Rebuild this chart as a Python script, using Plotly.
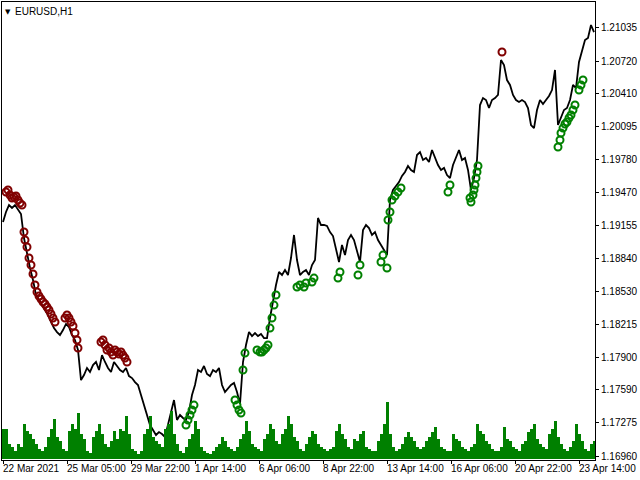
import plotly.graph_objects as go

# ---- data ----
close = [1.19188, 1.19283, 1.19349, 1.19321, 1.19349, 1.19302, 1.19264, 1.19035, 1.18873, 1.18750,
         1.18635, 1.18493, 1.18445, 1.18397, 1.18350, 1.18302, 1.18236, 1.18178, 1.18140, 1.18112,
         1.18159, 1.18217, 1.18188, 1.18112, 1.18064, 1.17969, 1.17683, 1.17731, 1.17798, 1.17760,
         1.17826, 1.17855, 1.17779, 1.17921, 1.17855, 1.17798, 1.17760, 1.17855, 1.17817, 1.17779,
         1.17760, 1.17798, 1.17721, 1.17702, 1.17664, 1.17636, 1.17541, 1.17445, 1.17350, 1.17255,
         1.17207, 1.17160, 1.17188, 1.17169, 1.17141, 1.17255, 1.17398, 1.17493, 1.17303, 1.17350,
         1.17322, 1.17303, 1.17379, 1.17541, 1.17636, 1.17779, 1.17760, 1.17817, 1.17741, 1.17721,
         1.17779, 1.17760, 1.17798, 1.17636, 1.17569, 1.17607, 1.17636, 1.17655, 1.17569, 1.17455,
         1.17855, 1.18017, 1.18140, 1.18102, 1.18131, 1.18102, 1.18121, 1.18083, 1.18083, 1.18274,
         1.18445, 1.18588, 1.18712, 1.18683, 1.18731, 1.18683, 1.18845, 1.19064, 1.18826, 1.18683,
         1.18712, 1.18731, 1.18683, 1.18778, 1.18826, 1.19226, 1.19159, 1.19159, 1.19150, 1.19092,
         1.19054, 1.18940, 1.18807, 1.18969, 1.18873, 1.19016, 1.19064, 1.19016, 1.18902, 1.18807,
         1.19111, 1.19159, 1.19130, 1.19064, 1.19092, 1.19016, 1.18969, 1.18921, 1.18873, 1.19397,
         1.19492, 1.19530, 1.19568, 1.19626, 1.19664, 1.19721, 1.19683, 1.19664, 1.19825, 1.19854,
         1.19778, 1.19797, 1.19759, 1.19873, 1.19797, 1.19730, 1.19683, 1.19702, 1.19635, 1.19606,
         1.19730, 1.19797, 1.19873, 1.19778, 1.19797, 1.19683, 1.19492, 1.19606, 1.19778, 1.20301,
         1.20368, 1.20349, 1.20273, 1.20349, 1.20368, 1.20397, 1.20730, 1.20682, 1.20539, 1.20492,
         1.20397, 1.20349, 1.20330, 1.20349, 1.20330, 1.20273, 1.20111, 1.20082, 1.20254, 1.20349,
         1.20311, 1.20349, 1.20387, 1.20444, 1.20635, 1.20111, 1.20178, 1.20254, 1.20273, 1.20349,
         1.20492, 1.20463, 1.20711, 1.20825, 1.20920, 1.20939, 1.21063, 1.20996]

volume = [3000, 3000, 1500, 1200, 800, 1500, 1200, 3500, 2800, 2500,
          2000, 1500, 1000, 800, 1200, 2200, 3000, 4000, 2200, 1800,
          1000, 800, 2800, 3500, 3000, 4600, 2500, 2000, 800, 600,
          2200, 2800, 3500, 2500, 1500, 1200, 1800, 2800, 2000, 3000,
          2800, 4300, 2500, 1000, 800, 500, 800, 2500, 3000, 4300,
          2200, 1800, 1500, 1200, 3000, 3500, 4800, 2500, 1500, 800,
          600, 1200, 2000, 2500, 3800, 3000, 1200, 800, 600, 500,
          800, 1200, 1500, 2200, 1800, 1200, 1000, 800, 1200, 2000,
          2500, 3800, 2800, 1500, 1200, 1000, 800, 2000, 2500, 3500,
          3000, 1800, 1500, 2500, 3000, 4300, 3500, 2200, 1800, 1000,
          800, 1500, 2200, 2800, 2500, 1500, 1200, 1000, 800, 1000,
          1200, 2800, 3500, 2500, 2000, 1200, 1000, 2000, 1800, 2500,
          2800, 1200, 1000, 800, 800, 1800, 2500, 3500, 5700, 2500,
          1200, 800, 1000, 1500, 2200, 2700, 2200, 1800, 1200, 1000,
          1200, 1800, 2200, 2700, 3200, 2000, 1200, 1000, 800, 800,
          2500, 2000, 1800, 1200, 1000, 800, 1200, 1500, 3500, 2800,
          2500, 1800, 1500, 1000, 800, 800, 1200, 3200, 2000, 1800,
          1200, 1000, 800, 1500, 1800, 2700, 3000, 3500, 2000, 1500,
          1200, 1000, 2500, 3000, 3800, 2200, 1500, 1000, 800, 1200,
          1800, 3500, 2500, 1800, 1000, 800, 1500, 1800]

# bar index / price of the dark-red signal marks (above highs)
red_idx = [3, 5, 7, 9, 11, 13, 15, 17, 19, 21, 22, 24, 26, 28, 30, 32, 34, 36, 38, 40,
           42, 44, 46, 48, 50, 52, 62, 64, 66, 68, 70, 72, 74, 75, 98, 100, 102, 104, 106, 108,
           110, 112, 114, 116, 118, 120, 122, 124, 499]
red_px = [1.19473, 1.19492, 1.19445, 1.19416, 1.19426, 1.19435, 1.19397, 1.19368, 1.19349, 1.19092,
          1.19016, 1.18950, 1.18845, 1.18778, 1.18693, 1.18588, 1.18521, 1.18483, 1.18455, 1.18426,
          1.18407, 1.18378, 1.18350, 1.18312, 1.18274, 1.18236, 1.18274, 1.18302, 1.18274, 1.18236,
          1.18198, 1.18131, 1.18064, 1.17988, 1.18045, 1.18064, 1.18017, 1.17969, 1.17988, 1.17950,
          1.17921, 1.17969, 1.17950, 1.17931, 1.17950, 1.17921, 1.17893, 1.17855, 1.20806]

# bar index / price of the green signal marks (below lows)
green_idx = [183, 185, 187, 189, 191, 232, 234, 236, 238, 240, 242, 254, 257, 259, 261, 263, 265,
             267, 269, 271, 273, 294, 297, 301, 303, 309, 311, 335, 337, 355, 357, 378, 380, 384,
             385, 387, 389, 392, 395, 398, 445, 447, 467, 468, 470, 471, 472, 473, 474, 475,
             555, 557, 558, 560, 562, 564, 566, 568, 570, 572, 576, 578, 580]
green_px = [1.17255, 1.17303, 1.17350, 1.17398, 1.17445, 1.17493, 1.17445, 1.17398, 1.17369, 1.17779,
            1.17940, 1.17969, 1.17950, 1.17950, 1.17969, 1.17988, 1.18017,
            1.18178, 1.18274, 1.18397, 1.18493, 1.18569, 1.18588, 1.18569, 1.18607, 1.18616, 1.18654,
            1.18654, 1.18712, 1.18683, 1.18778, 1.18807, 1.18873, 1.18750,
            1.19207, 1.19283, 1.19397, 1.19435, 1.19473, 1.19511, 1.19473, 1.19540, 1.19416, 1.19378,
            1.19445, 1.19492, 1.19540, 1.19606, 1.19664, 1.19721,
            1.19902, 1.19968, 1.20035, 1.20082, 1.20121, 1.20140, 1.20178, 1.20206, 1.20254, 1.20301,
            1.20444, 1.20492, 1.20539]

time_tick_idx = [0, 64, 128, 192, 256, 320, 384, 448, 512, 576]
time_tick_text = ["22 Mar 2021", "25 Mar 05:00", "29 Mar 22:00", "1 Apr 14:00", "6 Apr 06:00",
                  "8 Apr 22:00", "13 Apr 14:00", "16 Apr 06:00", "20 Apr 22:00", "23 Apr 14:00"]

price_ticks = [1.21035, 1.20720, 1.20410, 1.20095, 1.19780, 1.19470, 1.19155,
               1.18840, 1.18530, 1.18215, 1.17900, 1.17590, 1.17275, 1.16960]
price_tick_text = ["%.5f" % v for v in price_ticks]

# ---- figure ----
STEP = 3  # each sample spans 3 hourly bars
x_close = [i * STEP for i in range(len(close))]
x_vol = [i * STEP for i in range(len(volume))]

FONT = "Liberation Sans, Arial, sans-serif"
GREEN = "#008000"
MAROON = "#800000"

fig = go.Figure()
fig.add_trace(go.Bar(x=x_vol, y=volume, width=STEP, marker=dict(color=GREEN, line=dict(width=0)),
                     yaxis="y2", hoverinfo="skip"))
fig.add_trace(go.Scatter(x=x_close, y=close, mode="lines",
                         line=dict(color="black", width=1.8)))
fig.add_trace(go.Scatter(x=red_idx, y=red_px, mode="markers",
                         marker=dict(symbol="circle-open", size=7, color=MAROON,
                                     line=dict(width=2, color=MAROON))))
fig.add_trace(go.Scatter(x=green_idx, y=green_px, mode="markers",
                         marker=dict(symbol="circle-open", size=7, color=GREEN,
                                     line=dict(width=2, color=GREEN))))

annotations = []
for xi, t in zip(time_tick_idx, time_tick_text):
    annotations.append(dict(x=xi, y=0, xref="x", yref="paper", text=t, showarrow=False,
                            xanchor="left", yanchor="top", xshift=-2, yshift=-1,
                            font=dict(family=FONT, size=10, color="black")))
annotations.append(dict(x=0, y=1, xref="paper", yref="paper", text="▼", showarrow=False,
                        xanchor="left", yanchor="top", xshift=1, yshift=-4,
                        font=dict(family="DejaVu Sans", size=7, color="black")))
annotations.append(dict(x=0, y=1, xref="paper", yref="paper", text="EURUSD,H1", showarrow=False,
                        xanchor="left", yanchor="top", xshift=11, yshift=-2,
                        font=dict(family=FONT, size=10, color="black")))

fig.update_layout(
    width=640, height=480,
    margin=dict(l=2, r=45, t=2, b=20),
    paper_bgcolor="white", plot_bgcolor="white",
    showlegend=False, bargap=0, hovermode=False,
    annotations=annotations,
    xaxis=dict(range=[-1, 592], showgrid=False, zeroline=False,
               showline=True, mirror=True, linecolor="black", linewidth=1,
               tickvals=time_tick_idx, ticks="outside", ticklen=3, tickcolor="black",
               showticklabels=False),
    yaxis=dict(range=[1.16922, 1.21282], side="right", showgrid=False, zeroline=False,
               showline=True, mirror=True, linecolor="black", linewidth=1,
               tickvals=price_ticks, ticktext=price_tick_text,
               ticks="outside", ticklen=3, tickcolor="black",
               tickfont=dict(family=FONT, size=10, color="black")),
    yaxis2=dict(range=[-100, 45700], overlaying="y", visible=False),
)

fig.write_html("out.html", config={"displayModeBar": False},
               post_script="document.body.style.margin='0';")
